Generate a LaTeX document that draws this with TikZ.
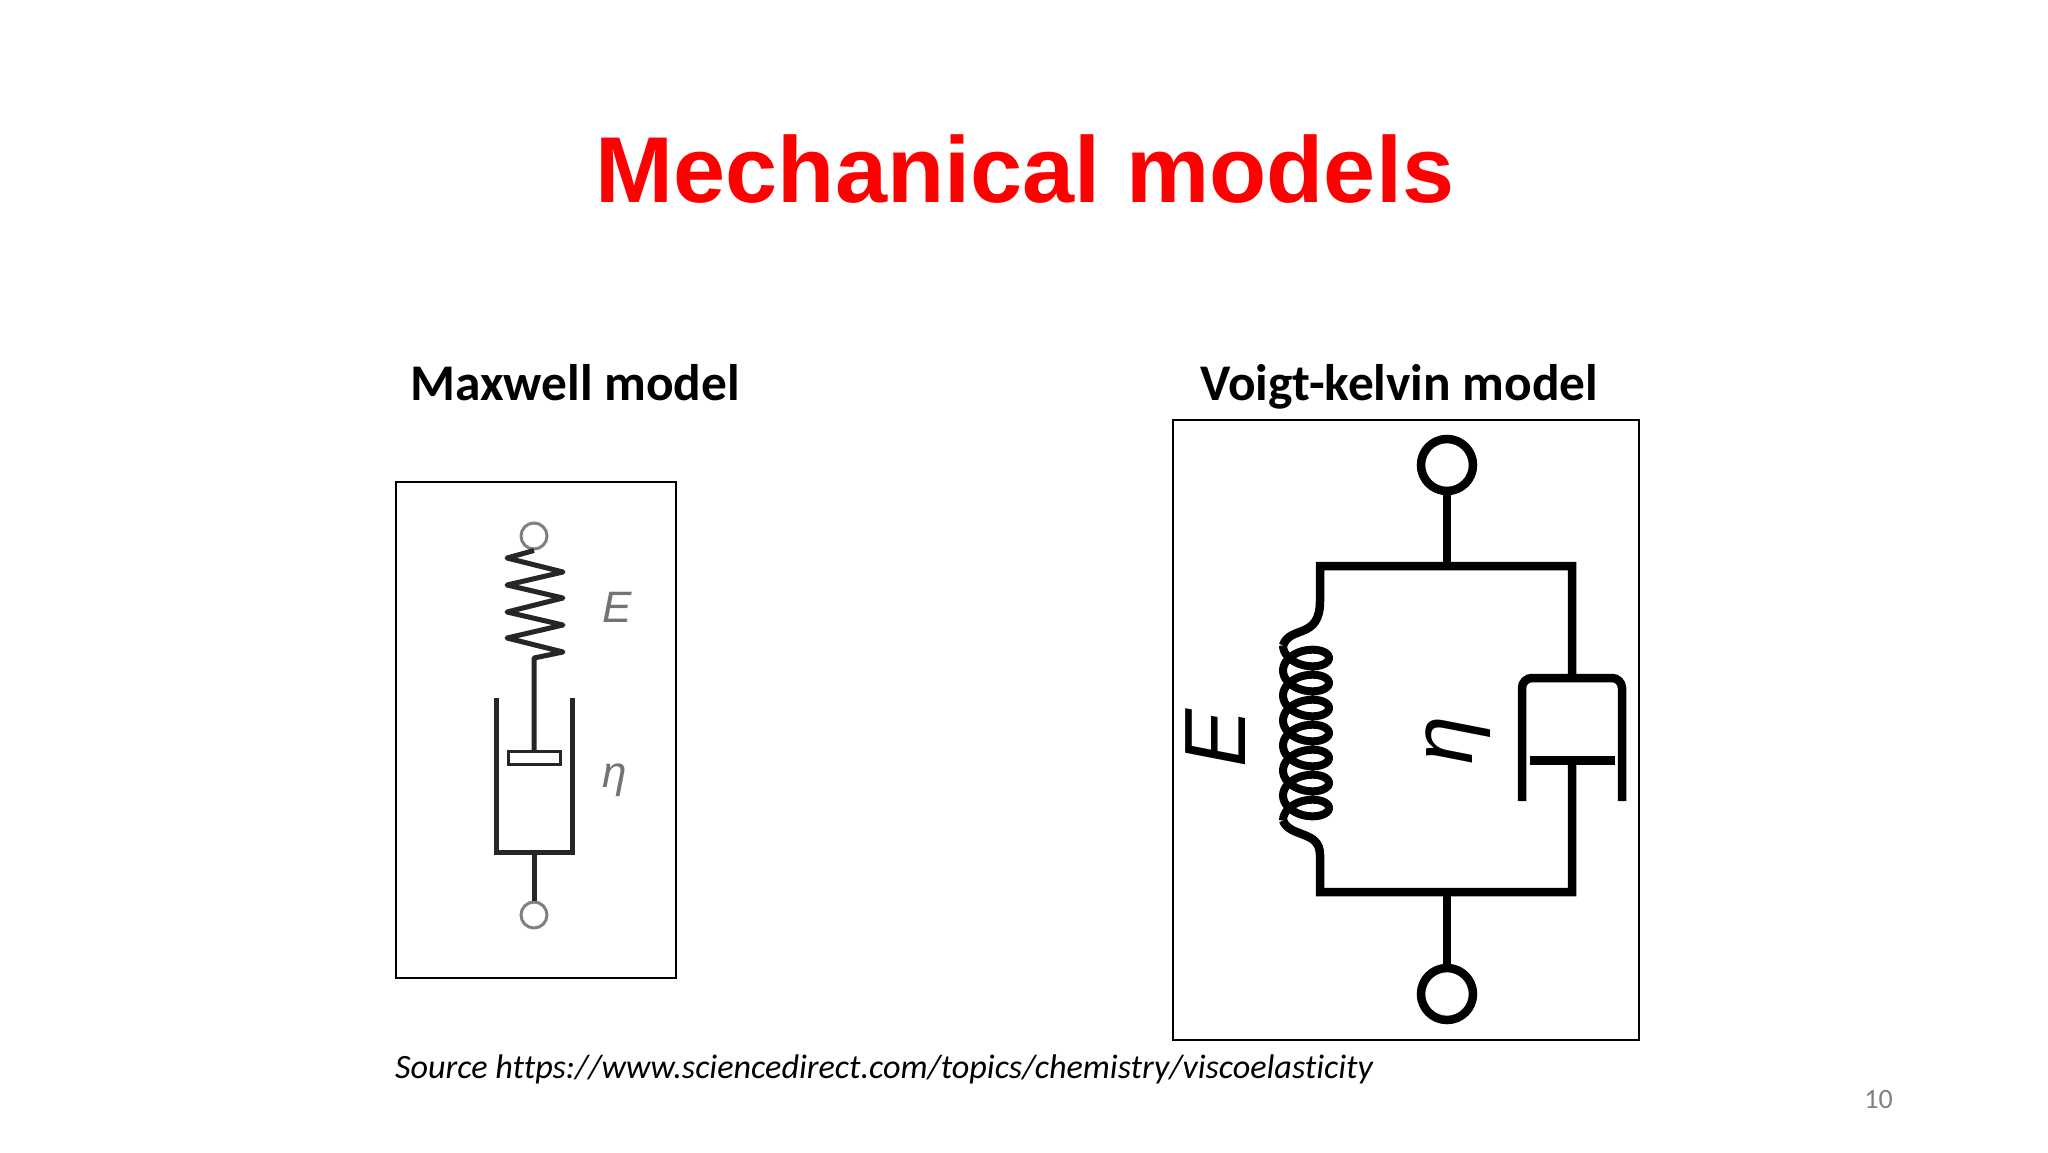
\documentclass[tikz,border=0pt]{standalone}
\usepackage{fontspec}
\setmainfont[Ligatures=NoCommon]{Carlito}
\newfontfamily\titlefont{Liberation Sans}
\usetikzlibrary{positioning}

\begin{document}
\begin{tikzpicture}
    [
        x=1pt, y=-1pt,
        heading/.style={anchor=base west, inner sep=0, font=\fontsize{51.4}{55}\selectfont\bfseries},
        panel/.style={rectangle, draw=black, line width=2pt, inner sep=0},
        thinwire/.style={draw=black!85, line width=5pt},
        thickwire/.style={draw=black, line width=8.5pt},
        thinport/.style={circle, draw=black!50, line width=3pt, fill=white, inner sep=0, minimum size=26pt},
        thickport/.style={circle, draw=black, line width=8.5pt, fill=white, inner sep=0, minimum size=52pt},
        greysymbol/.style={text=black!55, inner sep=0, font=\titlefont\itshape\fontsize{44}{50}\selectfont},
        blacksymbol/.style={text=black, inner sep=0, rotate=90, font=\titlefont\itshape\fontsize{87}{90}\selectfont},
    ]
    \useasboundingbox (0,0) rectangle (2048,1152);

    \node[anchor=base, inner sep=0, text=red, font=\titlefont\bfseries\fontsize{93.6}{100}\selectfont] (title) at (1025,202) {Mechanical models};
    \node[heading] (maxwell title) at (410,400) {Maxwell model};
    \node[heading] (voigt title) at (1200,400) {Voigt-kelvin model};

    % left panel
    \node[panel, minimum width=280pt, minimum height=496pt] (maxwell panel) at (535.7,730) {};
    \node[thinport] (maxwell top) at (534,536) {};
    \node[thinport] (maxwell bottom) at (534,915) {};
    \node[rectangle, draw=black!85, line width=3pt, fill=white, minimum width=52pt, minimum height=13pt, inner sep=0] (piston) at (534,758) {};
    \coordinate (cup left) at (496,698);
    \coordinate (cup right) at (572,698);
    \coordinate (cup base) at (534,852);
    \draw[thinwire, line join=round] (maxwell top.south) -- (507,558) -- (563,572) -- (507,585) -- (563,598)
        -- (507,612) -- (563,625) -- (507,638) -- (563,652) -- (534,658) -- (piston.north);
    \draw[thinwire] (cup left) |- (cup base) -| (cup right);
    \draw[thinwire] (cup base) -- (maxwell bottom.north);
    \node[greysymbol] (maxwell E) at (617,607) {E};
    \node[greysymbol] (maxwell eta) at (615,780) {η};

    % right panel
    \node[panel, minimum width=466pt, minimum height=620pt] (voigt panel) at (1406,729.5) {};
    \node[thickport] (voigt top) at (1447,465) {};
    \node[thickport] (voigt bottom) at (1447,994) {};
    \coordinate (top join) at (1447,566);
    \coordinate (bottom join) at (1447,892);
    \coordinate (spring start) at (1283,645.5);
    \coordinate (spring end) at (1283,820.5);
    \coordinate (dash top) at (1572,678);
    \coordinate (dash foot) at (1572,760);
    \draw[thickwire] (voigt top.south) -- (top join);
    \draw[thickwire] (voigt bottom.north) -- (bottom join);
    \draw[thickwire, line join=miter] (spring start) .. controls (1290,625) and (1320,640) .. (1320,601) -- (1320,566) -- (1572,566) -- (dash top);
    \draw[thickwire, line join=miter] (spring end) .. controls (1290,838) and (1320,830) .. (1320,855) -- (1320,892) -- (1572,892) -- (dash foot);
    \draw[draw=black, line width=8pt] plot[smooth, domain=-180:2340, samples=260, variable=\t]
        ({1306+23*cos(\t)}, {658+\t/360*25-14*sin(\t)});
    \draw[thickwire, rounded corners=10pt] (1522,801) -- (1522,678) -- (1622,678) -- (1622,801);
    \draw[draw=black, line width=9pt] (1530,760) -- (1615,760);
    \node[blacksymbol] (voigt E) at (1216,738) {E};
    \node[blacksymbol] (voigt eta) at (1458,740) {η};

    \node[anchor=base west, inner sep=0, font=\itshape\fontsize{34.15}{40}\selectfont] (source) at (395,1078) {Source https://www.sciencedirect.com/topics/chemistry/viscoelasticity};
    \node[anchor=base east, inner sep=0, text=black!50, font=\fontsize{28}{32}\selectfont] (page number) at (1893,1108) {10};
\end{tikzpicture}
\end{document}
